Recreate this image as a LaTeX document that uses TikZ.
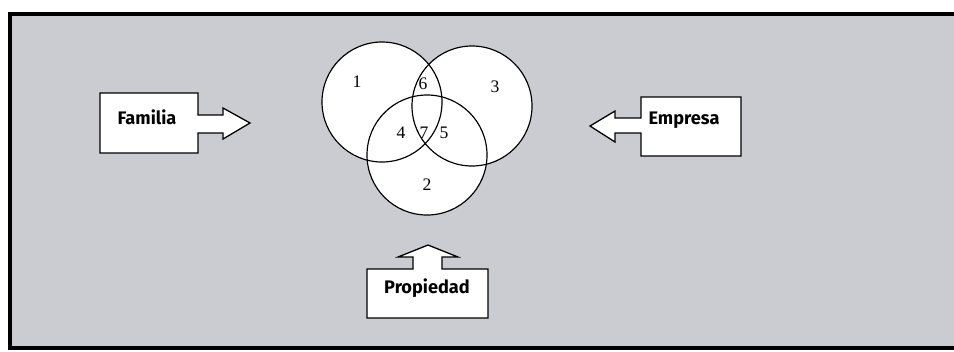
\documentclass[tikz,border=0pt]{standalone}
\usepackage{fontspec}
\setmainfont{Liberation Serif}
\newfontfamily\boxfont{Fira Sans}
\begin{document}
\begin{tikzpicture}[x=0.03cm,y=-0.03cm,
	box/.style={fill=white,draw=black,line width=1.1pt,line join=miter},
	boxlabel/.style={font=\boxfont\bfseries\fontsize{15.5}{18}\selectfont},
	set/.style={circle,minimum size=3.6cm,inner sep=0pt},
	num/.style={font=\fontsize{15}{17}\selectfont}]
\definecolor{paper}{RGB}{203,204,209}

	\useasboundingbox (0,0) rectangle (954,351);
	\fill[paper] (10,14) rectangle (954,348);
	\draw[line width=3.2pt] (954,14)--(10,14)--(10,348)--(954,348);

	% the three sets
	\node[set,fill=white] (s1) at (382,102){};
	\node[set,fill=white] (s3) at (472,106){};
	\node[set,fill=white] (s2) at (427,155){};
	\foreach \c in {s1,s2,s3}
		\draw[line width=1pt] (\c.center) circle (1.8cm);

	\node[num] (n1) at (357,82){1};
	\node[num] (n6) at (423,84){6};
	\node[num] (n3) at (495,87){3};
	\node[num] (n4) at (401,133){4};
	\node[num] (n7) at (424,133){7};
	\node[num] (n5) at (444,133){5};
	\node[num] (n2) at (427,185){2};

	% box arrows
	\draw[box] (100,93)--(198,93)--(198,115)--(223,115)--(223,108)--(250,123)--(223,139)--(223,133)--(198,133)--(198,153)--(100,153)--cycle;
	\node[boxlabel] (familia) at (147,117){Familia};

	\draw[box] (741,97)--(641,97)--(641,118)--(615,118)--(615,111)--(590,126)--(615,142)--(615,133)--(641,133)--(641,156)--(741,156)--cycle;
	\node[boxlabel] (empresa) at (684,120){Empresa};

	\draw[box] (367,318)--(367,269)--(413,269)--(413,257)--(398,257)--(428,245)--(458,257)--(442,257)--(442,269)--(488,269)--(488,318)--cycle;
	\node[boxlabel] (propiedad) at (427,288){Propiedad};

\end{tikzpicture}
\end{document}
